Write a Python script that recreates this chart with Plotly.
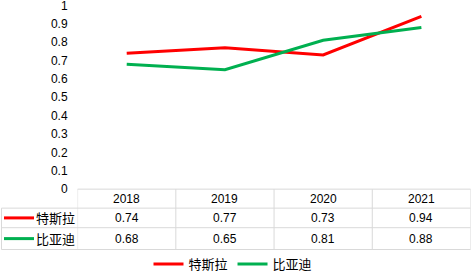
import plotly.graph_objects as go

years = ["2018", "2019", "2020", "2021"]
tesla = [0.74, 0.77, 0.73, 0.94]
byd = [0.68, 0.65, 0.81, 0.88]
names = ["特斯拉", "比亚迪"]
colors = ["#FF0000", "#00B050"]
yticks = [0, 0.1, 0.2, 0.3, 0.4, 0.5, 0.6, 0.7, 0.8, 0.9, 1]

W, H = 472, 279
FONT = "Liberation Sans, Noto Sans CJK SC, sans-serif"
CJK = "Noto Sans CJK SC, sans-serif"

def px(x):
    return x / W

def py(y):
    return 1 - y / H

left, right, top, bottom = 77.6, 470.5, 5.5, 193.3
row_lines = [212.7, 232.7, 255.0]
grid = "#D9D9D9"

fig = go.Figure()
idx = list(range(len(years)))
for name, vals, c in zip(names, [tesla, byd], colors):
    fig.add_trace(go.Scatter(x=idx, y=vals, mode="lines", name=name,
                             line=dict(color=c, width=3)))

shapes = []
shapes.append(dict(type="line", xref="paper", yref="paper", x0=px(left), x1=px(right),
                   y0=py(bottom), y1=py(bottom), line=dict(color=grid, width=1)))
for yl in row_lines:
    shapes.append(dict(type="line", xref="paper", yref="paper", x0=px(1.5), x1=px(right),
                       y0=py(yl), y1=py(yl), line=dict(color=grid, width=1)))
for xb in [-0.5, 0.5, 1.5, 2.5, 3.5]:
    shapes.append(dict(type="line", xref="x", yref="paper", x0=xb, x1=xb,
                       y0=py(bottom), y1=py(row_lines[-1]), line=dict(color=grid, width=1)))
shapes.append(dict(type="line", xref="paper", yref="paper", x0=px(1.5), x1=px(1.5),
                   y0=py(row_lines[0]), y1=py(row_lines[-1]), line=dict(color=grid, width=1)))

annotations = []
row_centers = [(bottom + row_lines[0]) / 2, (row_lines[0] + row_lines[1]) / 2,
               (row_lines[1] + row_lines[2]) / 2]
for i, yr in enumerate(years):
    annotations.append(dict(x=i, y=py(row_centers[0]), xref="x", yref="paper",
                            xanchor="center", yanchor="middle",
                            text=yr, showarrow=False, font=dict(size=12, color="#000", family=FONT)))
for r, (name, vals, c) in enumerate(zip(names, [tesla, byd], colors)):
    yc = py(row_centers[r + 1])
    for i, v in enumerate(vals):
        annotations.append(dict(x=i, y=yc, xref="x", yref="paper", text=f"{v:.2f}",
                                xanchor="center", yanchor="middle",
                                showarrow=False, font=dict(size=12, color="#000", family=FONT)))
    annotations.append(dict(x=px(35), y=yc, xref="paper", yref="paper", text=name,
                            xanchor="left", yanchor="middle", showarrow=False, borderpad=0,
                            font=dict(size=13, color="#000", family=CJK)))
    shapes.append(dict(type="line", xref="paper", yref="paper", x0=px(4), x1=px(34),
                       y0=yc, y1=yc, line=dict(color=c, width=3)))

fig.update_layout(
    width=W, height=H,
    margin=dict(l=0, r=0, t=0, b=0),
    paper_bgcolor="white", plot_bgcolor="white",
    xaxis=dict(domain=[px(left), px(right)], range=[-0.5, 3.5], showticklabels=False,
               showgrid=False, zeroline=False, showline=False, automargin=False),
    yaxis=dict(domain=[py(bottom), py(top)], range=[0, 1], tickvals=yticks,
               ticktext=[f"{t:g}" for t in yticks], showgrid=False, zeroline=False,
               showline=False, ticks="", ticklabelstandoff=9, automargin=False,
               ticklabeloverflow="allow",
               tickfont=dict(size=12, color="#000", family=FONT)),
    showlegend=True,
    legend=dict(orientation="h", x=px(233), xanchor="center", y=py(270), yanchor="middle",
                font=dict(size=13, color="#000", family=CJK), itemwidth=30,
                bgcolor="rgba(0,0,0,0)"),
    shapes=shapes, annotations=annotations,
)
fig.write_html("out.html", config={"displayModeBar": False},
               post_script="document.body.style.margin='0';")
